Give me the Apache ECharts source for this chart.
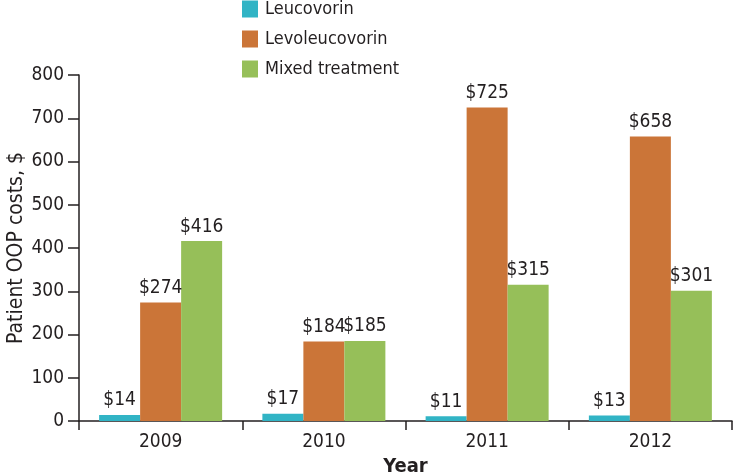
<!DOCTYPE html>
<html>
<head>
<meta charset="utf-8">
<script src="https://cdn.jsdelivr.net/npm/echarts@6/dist/echarts.min.js"></script>
<style>html,body{margin:0;padding:0;background:#fff}#c{width:734px;height:475px}</style>
</head>
<body>
<div id="c"></div>
<script>
const years = ['2009', '2010', '2011', '2012'];
const leucovorin = [14, 17, 11, 13];
const levoleucovorin = [274, 184, 725, 658];
const mixed = [416, 185, 315, 301];
const seriesNames = ['Leucovorin', 'Levoleucovorin', 'Mixed treatment'];
const yTicks = [0, 100, 200, 300, 400, 500, 600, 700, 800];

const FONT = '"DejaVu Sans Condensed", "Roboto", sans-serif';
const TXT = '#231f20';
const colors = ['#31b4c5', '#cb7538', '#96bf59'];

const chart = echarts.init(document.getElementById('c'));
const mk = (name, data, i) => ({
  name, type: 'bar', data,
  barWidth: 41, barGap: '0%',
  itemStyle: { color: colors[i] },
  label: { show: true, position: 'top', distance: 5, formatter: p => '$' + p.value,
           fontFamily: FONT, fontSize: 19, color: TXT }
});
chart.setOption({
  animation: false,
  textStyle: { fontFamily: FONT, color: TXT },
  legend: {
    orient: 'vertical', left: 242, top: 0, padding: 0,
    itemWidth: 16, itemHeight: 17, itemGap: 12, icon: 'rect',
    textStyle: { fontFamily: FONT, fontSize: 18, color: TXT, padding: [0, 0, 0, 2] },
    data: seriesNames
  },
  grid: { left: 79, right: 2, top: 75, bottom: 54, containLabel: false, outerBoundsMode: 'none' },
  xAxis: {
    type: 'category', data: years,
    name: 'Year', nameLocation: 'middle', nameGap: 36, nameMoveOverlap: false,
    nameTextStyle: { fontFamily: FONT, fontSize: 20, fontWeight: 'bold', color: TXT },
    axisLine: { lineStyle: { color: TXT, width: 1.5 } },
    axisTick: { show: true, length: 9, lineStyle: { color: TXT, width: 1.5 } },
    axisLabel: { fontFamily: FONT, fontSize: 19, color: TXT, margin: 12 }
  },
  yAxis: {
    type: 'value', min: 0, max: 800, interval: 100,
    name: 'Patient OOP costs, $', nameLocation: 'middle', nameGap: 52, nameMoveOverlap: false,
    nameTextStyle: { fontFamily: FONT, fontSize: 21, color: TXT },
    axisLine: { show: true, lineStyle: { color: TXT, width: 1.5 } },
    axisTick: { show: true, length: 11, lineStyle: { color: TXT, width: 1.5 } },
    axisLabel: { fontFamily: FONT, fontSize: 19, color: TXT, margin: 15,
                 formatter: v => yTicks.includes(v) ? String(v) : '' },
    splitLine: { show: false }
  },
  series: [mk(seriesNames[0], leucovorin, 0), mk(seriesNames[1], levoleucovorin, 1), mk(seriesNames[2], mixed, 2)]
});
</script>
</body>
</html>
